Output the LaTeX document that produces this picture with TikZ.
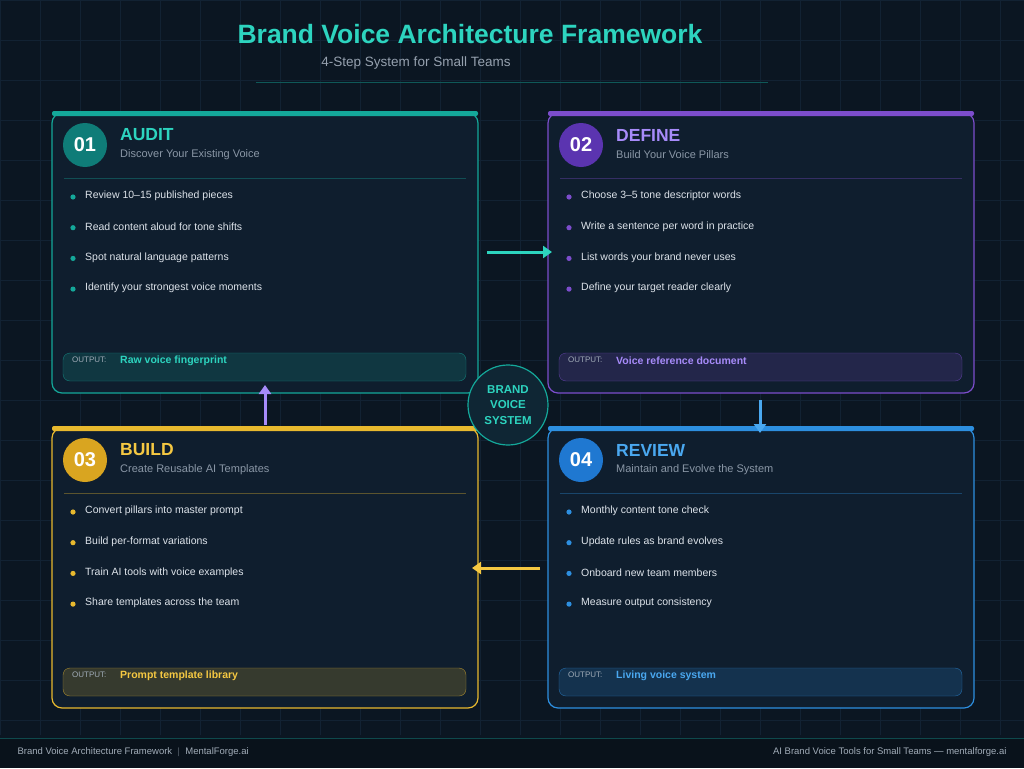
\documentclass[tikz,border=0pt]{standalone}
\usepackage{fontspec}
\setmainfont{Liberation Sans}
\usetikzlibrary{arrows.meta}
\definecolor{bg}{HTML}{0B1622}
\definecolor{grid}{HTML}{122233}
\definecolor{cardf}{HTML}{0F1E2E}
\definecolor{teal}{HTML}{14A89A}
\definecolor{tealb}{HTML}{0F7C78}
\definecolor{tealt}{HTML}{2DD4BF}
\definecolor{purp}{HTML}{7C4DCC}
\definecolor{purpb}{HTML}{5B34B0}
\definecolor{purpt}{HTML}{A78BFA}
\definecolor{yel}{HTML}{E8B92E}
\definecolor{yelb}{HTML}{D9A520}
\definecolor{yelt}{HTML}{F5C842}
\definecolor{blu}{HTML}{2D8FE0}
\definecolor{blub}{HTML}{1F78D1}
\definecolor{blut}{HTML}{4AA8F0}
\definecolor{txt}{HTML}{DDE3EA}
\definecolor{sub}{HTML}{8A97A6}
\tikzset{
 ttl/.style={anchor=west,inner sep=0,font=\bfseries\fontsize{17.5}{19}\selectfont},
 stl/.style={anchor=west,inner sep=0,text=sub,font=\fontsize{11}{13}\selectfont},
 bul/.style={anchor=west,inner sep=0,text=txt,font=\fontsize{10.5}{12}\selectfont},
 outl/.style={anchor=west,inner sep=0,text=sub!80,font=\fontsize{8}{10}\selectfont},
 outv/.style={anchor=west,inner sep=0,font=\bfseries\fontsize{10.5}{12}\selectfont},
 badge/.style={circle,minimum size=44pt,inner sep=0,text=white,font=\bfseries\fontsize{20}{22}\selectfont},
 arr/.style={line width=3pt,-{Triangle[length=9pt,width=12pt]}},
}
\newcommand{\card}[9]{% x y color badgecol titlecol num title subtitle output
 \begin{scope}[shift={(#1,#2)}]
 \draw[#3,line width=1.2pt,fill=cardf,rounded corners=10pt] (0,0) rectangle (426,280);
 \fill[#3,rounded corners=2pt] (0,-2) rectangle (426,3);
 \node[badge,fill=#4] (b#6) at (33,32) {#6};
 \node[ttl,text=#5] (t#6) at (68,22) {#7};
 \node[stl] (s#6) at (68,42) {#8};
 \draw[#3!35!cardf,line width=0.6pt] (12,65) -- (414,65);
 \draw[#3!70!cardf,fill=#3!18!cardf,rounded corners=7pt] (11,240) rectangle (414,268);
 \node[outl] (o#6) at (20,247) {OUTPUT:};
 \node[outv,text=#5] (v#6) at (68,248) {#9};
 \end{scope}}
\newcommand{\bullets}[7]{% x y color b1..b4
 \begin{scope}[shift={(#1,#2)}]
 \foreach \t [count=\i] in {#4,#5,#6,#7}{
  \fill[#3] (21,{84+(\i-1)*30.7}) circle (2.6pt);
  \node[bul] (bl\i) at (33,{83+(\i-1)*30.7}) {\t};}
 \end{scope}}
\begin{document}
\begin{tikzpicture}[x=1pt,y=-1pt]
\fill[bg] (0,0) rectangle (1024,768);
\useasboundingbox (0,0) rectangle (1024,768);
\foreach \x in {0,40,...,1024} \draw[grid,line width=0.4pt] (\x,0) -- (\x,735);
\foreach \y in {0,40,...,735} \draw[grid,line width=0.4pt] (0,\y) -- (1024,\y);
\node[text=tealt,font=\bfseries\fontsize{26.5}{30}\selectfont] (title) at (470,34) {Brand Voice Architecture Framework};
\node[text=sub!90!white,font=\fontsize{13.5}{15}\selectfont] (subt) at (416,63) {4-Step System for Small Teams};
\draw[teal!45!bg,line width=0.8pt] (256,82) -- (768,82);
\card{52}{113}{teal}{tealb}{tealt}{01}{AUDIT}{Discover Your Existing Voice}{Raw voice fingerprint}
\bullets{52}{113}{teal}{Review 10–15 published pieces}{Read content aloud for tone shifts}{Spot natural language patterns}{Identify your strongest voice moments}
\card{548}{113}{purp}{purpb}{purpt}{02}{DEFINE}{Build Your Voice Pillars}{Voice reference document}
\bullets{548}{113}{purp}{Choose 3–5 tone descriptor words}{Write a sentence per word in practice}{List words your brand never uses}{Define your target reader clearly}
\card{52}{428}{yel}{yelb}{yelt}{03}{BUILD}{Create Reusable AI Templates}{Prompt template library}
\bullets{52}{428}{yel}{Convert pillars into master prompt}{Build per-format variations}{Train AI tools with voice examples}{Share templates across the team}
\card{548}{428}{blu}{blub}{blut}{04}{REVIEW}{Maintain and Evolve the System}{Living voice system}
\bullets{548}{428}{blu}{Monthly content tone check}{Update rules as brand evolves}{Onboard new team members}{Measure output consistency}
\node[circle,draw=teal,line width=1.2pt,fill=cardf!80!teal!30!cardf,minimum size=80pt,text=tealt,align=center,font=\bfseries\fontsize{11.5}{15.5}\selectfont] (hub) at (508,405) {BRAND\\VOICE\\SYSTEM};
\coordinate (a1s) at (487,252); \coordinate (a1e) at (552,252);
\draw[arr,tealt] (a1s) -- (a1e);
\coordinate (a2s) at (760,400); \coordinate (a2e) at (760,433);
\draw[arr,blut] (a2s) -- (a2e);
\coordinate (a3s) at (540,568); \coordinate (a3e) at (472,568);
\draw[arr,yelt] (a3s) -- (a3e);
\coordinate (a4s) at (265,425); \coordinate (a4e) at (265,385);
\draw[arr,purpt] (a4s) -- (a4e);
\draw[teal!35!bg,line width=0.8pt] (0,738) -- (1024,738);
\fill[bg!80!black] (0,738.5) rectangle (1024,768);
\node[anchor=west,text=sub!80,font=\fontsize{9.5}{11}\selectfont] (f1) at (14,752) {Brand Voice Architecture Framework \ $|$ \ MentalForge.ai};
\node[anchor=east,text=sub!80,font=\fontsize{9.5}{11}\selectfont] (f2) at (1010,752) {AI Brand Voice Tools for Small Teams — mentalforge.ai};
\end{tikzpicture}
\end{document}
